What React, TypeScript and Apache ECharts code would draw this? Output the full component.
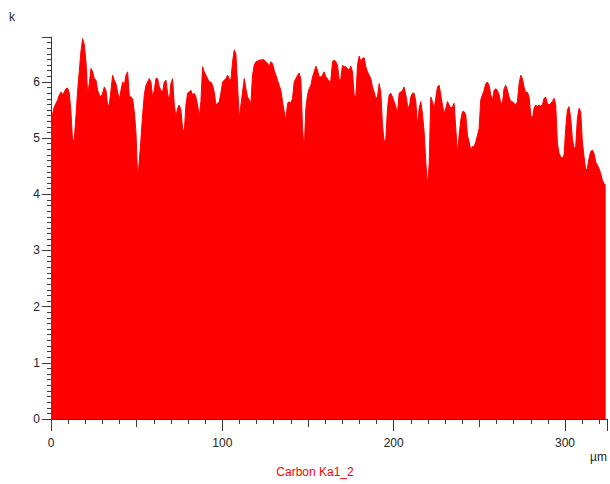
import React, { useEffect, useRef } from "react";
import * as echarts from "echarts";

// Line-scan profile of the Carbon Ka1 signal, sampled on a uniform grid (µm)
const SAMPLE_STEP_UM = 0.9722;
const X_MAX_UM = 324.5;
const Y_MAX_K = 6.8;

const carbonCounts: number[] = [
  // 0 – 81 µm
  5.29, 5.44, 5.56, 5.62, 5.68, 5.77, 5.82, 5.77, 5.82, 5.88, 5.89, 5.80, 5.45, 4.93, 4.99, 5.40,
  5.85, 6.20, 6.55, 6.77, 6.66, 6.36, 5.80, 5.97, 6.24, 6.18, 6.06, 6.03, 5.85, 5.77, 5.73, 5.80,
  5.91, 5.85, 5.59, 5.59, 5.85, 6.12, 6.03, 5.97, 5.82, 5.68, 5.85, 6.00, 5.94, 6.12, 6.18, 5.75,
  5.73, 5.70, 5.47, 5.11, 4.30, 4.58, 4.99, 5.41, 5.77, 5.94, 6.00, 6.06, 6.00, 5.73, 5.85, 6.06,
  6.06, 5.91, 5.85, 5.82, 6.00, 6.03, 5.80, 5.65, 5.97, 6.06, 5.59, 5.38, 5.53, 5.59, 5.50, 5.17,
  5.11, 5.59, 5.80, 5.82,
  // 82 – 162 µm
  5.85, 5.77, 5.80, 5.73, 5.59, 5.38, 5.65, 6.27, 6.18, 6.12, 6.06, 6.00, 6.00, 5.94, 5.82, 5.59,
  5.62, 5.65, 5.80, 6.00, 6.03, 6.06, 6.12, 6.06, 6.03, 6.36, 6.57, 6.50, 5.94, 5.35, 5.59, 5.82,
  6.06, 5.88, 5.73, 5.68, 5.62, 6.12, 6.30, 6.36, 6.37, 6.39, 6.39, 6.40, 6.39, 6.36, 6.33, 6.27,
  6.36, 6.33, 6.21, 6.12, 6.03, 5.94, 5.85, 5.65, 5.47, 5.32, 5.62, 5.65, 5.62, 5.71, 6.00, 6.06,
  6.12, 6.16, 6.05, 5.17, 4.80, 5.53, 5.77, 5.88, 5.94, 6.09, 6.18, 6.28, 6.21, 6.09, 6.09, 6.12,
  6.18, 6.09, 6.06, 6.00,
  // 163 – 244 µm
  6.03, 6.36, 6.39, 6.36, 6.30, 6.03, 6.06, 6.30, 6.27, 6.27, 6.24, 6.21, 6.28, 6.18, 5.77, 5.73,
  6.30, 6.46, 6.36, 6.42, 6.43, 6.27, 6.18, 6.12, 6.06, 5.91, 5.82, 5.71, 5.73, 5.97, 5.82, 5.23,
  4.93, 4.99, 5.53, 5.77, 5.80, 5.73, 5.65, 5.56, 5.44, 5.80, 5.82, 5.85, 5.91, 5.77, 5.59, 5.53,
  5.73, 5.80, 5.80, 5.65, 5.23, 5.53, 5.65, 5.44, 5.11, 4.58, 4.16, 4.52, 5.73, 5.65, 5.53, 5.71,
  5.91, 5.94, 5.77, 5.59, 5.44, 5.53, 5.65, 5.59, 5.53, 5.56, 5.62, 5.17, 4.73, 5.05, 5.32, 5.47,
  5.47, 5.41, 5.05, 4.93,
  // 245 – 324 µm
  4.79, 4.85, 4.85, 4.93, 5.05, 5.17, 5.68, 5.77, 5.85, 5.97, 6.00, 5.94, 5.77, 5.68, 5.85, 5.88,
  5.85, 5.77, 5.62, 5.62, 5.88, 5.94, 5.85, 5.73, 5.65, 5.65, 5.62, 5.59, 5.65, 5.97, 6.12, 6.06,
  5.91, 5.80, 5.82, 5.73, 5.41, 5.35, 5.53, 5.59, 5.56, 5.59, 5.57, 5.59, 5.71, 5.73, 5.62, 5.59,
  5.62, 5.65, 5.71, 5.59, 4.91, 4.73, 4.67, 4.64, 4.70, 5.17, 5.50, 5.56, 5.35, 4.99, 4.82, 4.85,
  5.35, 5.53, 5.47, 4.93, 4.67, 4.43, 4.46, 4.64, 4.76, 4.79, 4.73, 4.58, 4.52, 4.46, 4.37, 4.25,
  4.19, 4.16,
];

const xTickLabels = ["0", "100", "200", "300"];
const seriesName = "Carbon Ka1_2";
const xUnit = "µm";
const yUnit = "k";

const FONT = "Liberation Sans";
const AXIS_COLOR = "#3a3a3a";
const TEXT_COLOR = "#222";

export default function App() {
  const ref = useRef<HTMLDivElement>(null);

  useEffect(() => {
    if (!ref.current) return;
    const chart = echarts.init(ref.current, undefined, { renderer: "svg" });

    const points = carbonCounts.map((v, i) => [i * SAMPLE_STEP_UM, v]);

    const grid = { left: 51, right: 3, top: 37, bottom: 65 };

    chart.setOption({
      animation: false,
      backgroundColor: "#ffffff",
      grid,
      xAxis: [
        {
          type: "value",
          min: 0,
          max: X_MAX_UM,
          interval: 100,
          axisLine: { show: true, onZero: false, lineStyle: { color: AXIS_COLOR, width: 1 } },
          axisTick: { show: true, length: 12, lineStyle: { color: AXIS_COLOR } },
          minorTick: { show: true, splitNumber: 10, length: 5, lineStyle: { color: AXIS_COLOR } },
          splitLine: { show: false },
          axisLabel: {
            margin: 18,
            color: TEXT_COLOR,
            fontFamily: FONT,
            fontSize: 12,
            showMaxLabel: false,
            formatter: (v: number) => {
              const idx = Math.round(v / 100);
              return Math.abs(v - idx * 100) < 1e-6 ? xTickLabels[idx] ?? "" : "";
            },
          },
        },
        {
          // intermediate ticks every 50 µm
          type: "value",
          min: 0,
          max: X_MAX_UM,
          interval: 50,
          position: "bottom",
          axisLine: { show: false },
          axisTick: { show: true, length: 8, lineStyle: { color: AXIS_COLOR } },
          axisLabel: { show: false },
          splitLine: { show: false },
        },
      ],
      yAxis: {
        type: "value",
        min: 0,
        max: Y_MAX_K,
        interval: 1,
        axisLine: { show: true, lineStyle: { color: AXIS_COLOR, width: 1 } },
        axisTick: { show: true, length: 9, lineStyle: { color: AXIS_COLOR } },
        minorTick: { show: true, splitNumber: 10, length: 4, lineStyle: { color: AXIS_COLOR } },
        splitLine: { show: false },
        axisLabel: {
          margin: 11,
          color: TEXT_COLOR,
          fontFamily: FONT,
          fontSize: 12,
          showMaxLabel: false,
        },
      },
      series: [
        {
          name: seriesName,
          type: "line",
          xAxisIndex: 0,
          data: points,
          symbol: "none",
          lineStyle: { color: "#ff0000", width: 1 },
          areaStyle: { color: "#ff0000", opacity: 1 },
          z: 1,
        },
      ],
      graphic: [
        {
          type: "text",
          x: 9,
          y: 11,
          style: { text: yUnit, fill: TEXT_COLOR, font: `12px "${FONT}"` },
        },
        {
          type: "text",
          x: 590,
          y: 451,
          style: { text: xUnit, fill: TEXT_COLOR, font: `12px "${FONT}"` },
        },
        {
          type: "text",
          x: 315,
          y: 466,
          style: {
            text: seriesName,
            fill: "#ff0000",
            font: `12px "${FONT}"`,
            align: "center",
          },
        },
      ],
    });

    return () => chart.dispose();
  }, []);

  return (
    <div
      ref={ref}
      style={{ position: "fixed", left: 0, top: 0, width: 610, height: 484, background: "#fff" }}
    />
  );
}
